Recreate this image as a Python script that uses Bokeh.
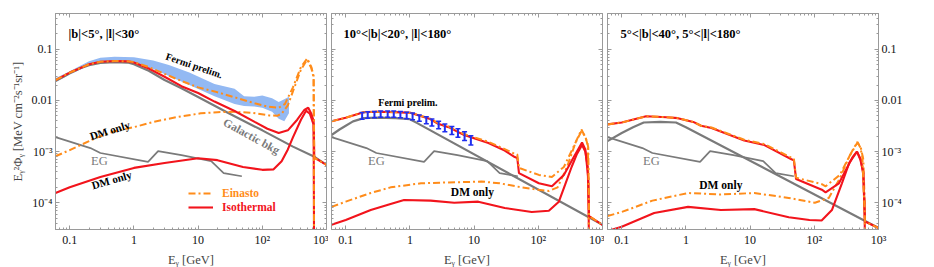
from bokeh.plotting import figure
from bokeh.layouts import row
from bokeh.models import (FixedTicker, LogAxis, Label, Legend, LegendItem, Range1d)
from bokeh.embed import file_html
from bokeh.resources import INLINE

# ---------------- axes / ticks ----------------
X_RANGE = (0.06, 1000)
Y_RANGE = (3e-5, 0.5)
X_TICKS = [0.1, 1, 10, 100, 1000]
X_TICK_LABELS = ["0.1", "1", "10", "10²", "10³"]
Y_TICKS = [1e-4, 1e-3, 1e-2, 1e-1]
Y_TICK_LABELS = ["10⁻⁴", "10⁻³", "0.01", "0.1"]
X_MINOR = [m * 10.0 ** k for k in range(-2, 3) for m in range(2, 10)]
Y_MINOR = [m * 10.0 ** k for k in range(-5, 0) for m in range(2, 10)]

# ---------------- shared extragalactic (EG) background ----------------
EG_E = [0.06, 0.21, 0.30, 1.66, 2.38, 5.5, 16, 25, 48]
EG_Y = [1.92e-3, 1.17e-3, 9.4e-4, 6.3e-4, 1.02e-3, 8.5e-4, 6.5e-4, 3.8e-4, 3.3e-4]

# ---------------- panel A: |b|<5, |l|<30 ----------------
A_GAL_E = [0.06, 0.08, 0.1, 0.15, 0.2, 0.3, 0.5, 0.8, 1.0, 1.3, 1.7, 3, 5.5, 10, 30, 100, 300, 660, 1000]
A_GAL_Y = [0.024, 0.029, 0.034, 0.043, 0.049, 0.054, 0.056, 0.055, 0.051, 0.044, 0.038, 0.025, 0.0173,
           0.0117, 0.0056, 0.0026, 0.00125, 0.00078, 0.00055]
A_ISO_E = [0.06, 0.1, 0.2, 0.3, 0.5, 0.8, 1, 1.7, 3, 5.5, 10, 18, 37, 76, 120, 180, 250, 350, 450, 520,
           580, 630, 645, 1000]
A_ISO_Y = [0.025, 0.035, 0.051, 0.057, 0.059, 0.058, 0.055, 0.042, 0.029, 0.019, 0.014, 0.0095, 0.0062,
           0.0038, 0.0028, 0.0023, 0.0026, 0.0042, 0.0065, 0.0072, 0.0055, 0.004, 0.00076, 0.00055]
A_EIN_E = [0.06, 0.1, 0.2, 0.3, 0.5, 0.8, 1, 1.7, 3, 5.5, 10, 18, 37, 76, 126, 180, 225, 300, 400, 500,
           580, 630, 645, 1000]
A_EIN_Y = [0.025, 0.035, 0.051, 0.057, 0.059, 0.058, 0.056, 0.045, 0.033, 0.024, 0.018, 0.015, 0.0115,
           0.0088, 0.0075, 0.0072, 0.0085, 0.018, 0.045, 0.066, 0.045, 0.03, 0.00076, 0.00055]
A_EIN_DM_E = [0.06, 0.1, 0.2, 0.3, 0.5, 1, 2, 5, 11, 20, 37, 70, 126, 170, 200, 250, 300, 400, 500, 580,
              630, 645]
A_EIN_DM_Y = [8.1e-4, 1.07e-3, 1.6e-3, 2.0e-3, 2.5e-3, 3.0e-3, 3.8e-3, 4.8e-3, 5.6e-3, 5.9e-3, 6.0e-3,
              5.7e-3, 5.1e-3, 5.0e-3, 5.5e-3, 8e-3, 0.015, 0.04, 0.063, 0.043, 0.028, 1e-6]
A_ISO_DM_E = [0.06, 0.1, 0.3, 1, 3, 10, 20, 50, 100, 150, 200, 250, 300, 400, 480, 550, 600, 630, 645]
A_ISO_DM_Y = [1.55e-4, 2.0e-4, 3.2e-4, 4.8e-4, 6.0e-4, 7.4e-4, 6.8e-4, 5.0e-4, 4.4e-4, 4.5e-4, 6.5e-4,
              1.1e-3, 1.9e-3, 4.2e-3, 6.3e-3, 5.5e-3, 4.0e-3, 3.4e-3, 1e-6]
A_FERMI_E = [0.06, 0.1, 0.2, 0.3, 0.5, 1, 2, 3.5, 7.3, 18, 37, 52, 75, 100, 142, 180, 220, 260]
A_FERMI_HI = [0.027, 0.037, 0.058, 0.068, 0.071, 0.07, 0.06, 0.049, 0.035, 0.021, 0.017, 0.012, 0.0118,
              0.0125, 0.011, 0.0093, 0.0105, 0.0118]
A_FERMI_LO = [0.023, 0.032, 0.048, 0.053, 0.055, 0.053, 0.041, 0.03, 0.02, 0.012, 0.0085, 0.0078, 0.0076,
              0.0072, 0.006, 0.0044, 0.0039, 0.0056]

# ---------------- panel B: 10<|b|<20, |l|<180 ----------------
B_GAL_E = [0.06, 0.08, 0.1, 0.13, 0.19, 0.3, 0.6, 1.0, 1.3, 1000]
B_GAL_Y = [2.1e-3, 2.7e-3, 3.2e-3, 3.9e-3, 4.5e-3, 4.6e-3, 4.5e-3, 4.3e-3, 3.6e-3, 3.7e-5]
B_ISO_E = [0.06, 0.1, 0.19, 0.3, 0.6, 1.04, 2, 2.75, 4, 7, 16.7, 30, 43, 47, 50, 102, 163, 250, 350, 480,
           540, 600, 617, 1000]
B_ISO_Y = [3.9e-3, 4.6e-3, 5.9e-3, 6.0e-3, 5.9e-3, 5.7e-3, 4.4e-3, 3.5e-3, 3.0e-3, 2.1e-3, 1.47e-3,
           1.05e-3, 7.8e-4, 7.5e-4, 3.8e-4, 2.4e-4, 2.1e-4, 3.5e-4, 7.5e-4, 1.5e-3, 1.1e-3, 3e-4, 5.5e-5, 3.7e-5]
B_EIN_E = [0.06, 0.1, 0.19, 0.3, 0.6, 1.04, 2, 2.75, 4, 7, 16.7, 30, 43, 47, 50, 102, 163, 250, 350, 470,
           530, 580, 600, 617, 1000]
B_EIN_Y = [3.9e-3, 4.6e-3, 5.9e-3, 6.0e-3, 5.9e-3, 5.7e-3, 4.5e-3, 3.6e-3, 3.1e-3, 2.2e-3, 1.55e-3,
           1.12e-3, 9e-4, 8.8e-4, 4.8e-4, 3.5e-4, 3.2e-4, 5e-4, 1.2e-3, 2.7e-3, 2.0e-3, 1.5e-3, 1.2e-3,
           5.5e-5, 3.7e-5]
B_EIN_DM_E = [0.06, 0.1, 0.245, 0.5, 1.49, 4, 9, 13, 25, 55, 100, 146, 200, 280, 380, 470, 540, 590, 610, 620]
B_EIN_DM_Y = [8.3e-5, 1.05e-4, 1.55e-4, 2.0e-4, 2.4e-4, 2.5e-4, 2.55e-4, 2.6e-4, 2.4e-4, 2.0e-4, 1.8e-4,
              1.7e-4, 2.0e-4, 5e-4, 1.5e-3, 2.5e-3, 2.0e-3, 1.3e-3, 1e-4, 1e-6]
B_ISO_DM_E = [0.06, 0.1, 0.245, 0.5, 0.81, 2.1, 4.9, 11.6, 30, 79, 146, 209, 260, 330, 400, 480, 540, 590,
              610, 620]
B_ISO_DM_Y = [3.7e-5, 4.6e-5, 7.2e-5, 9.5e-5, 1.13e-4, 1.1e-4, 1.0e-4, 1.05e-4, 7.9e-5, 6.6e-5, 7.0e-5,
              1.05e-4, 2.2e-4, 5e-4, 9e-4, 1.35e-3, 1.0e-3, 5e-4, 5e-5, 1e-6]
B_FERMI_E = [0.18, 0.22, 0.28, 0.35, 0.45, 0.56, 0.71, 0.89, 1.1, 1.4, 1.8, 2.2, 2.8, 3.5, 4.5, 5.6, 7.1, 8.9]
B_FERMI_LO = [4.3e-3, 4.5e-3, 4.6e-3, 4.7e-3, 4.7e-3, 4.7e-3, 4.6e-3, 4.4e-3, 4.2e-3, 3.9e-3, 3.5e-3,
              3.15e-3, 2.8e-3, 2.45e-3, 2.15e-3, 1.9e-3, 1.65e-3, 1.35e-3]
B_FERMI_HI = [5.8e-3, 6.0e-3, 6.1e-3, 6.2e-3, 6.2e-3, 6.2e-3, 6.1e-3, 5.9e-3, 5.7e-3, 5.2e-3, 4.8e-3,
              4.35e-3, 3.9e-3, 3.45e-3, 3.1e-3, 2.8e-3, 2.45e-3, 2.05e-3]

# ---------------- panel C: 5<|b|<40, 5<|l|<180 ----------------
C_GAL_E = [0.06, 0.1, 0.15, 0.22, 0.4, 0.7, 1.0, 1000]
C_GAL_Y = [1.6e-3, 2.3e-3, 3.0e-3, 3.7e-3, 3.8e-3, 3.7e-3, 3.0e-3, 3.2e-5]
C_ISO_E = [0.06, 0.1, 0.24, 0.5, 0.75, 1.3, 1.72, 2.5, 8.1, 16.7, 44, 48, 52, 131, 150, 242, 400, 462, 520,
           580, 617, 1000]
C_ISO_Y = [3.4e-3, 3.7e-3, 4.9e-3, 4.7e-3, 4.5e-3, 3.8e-3, 3.2e-3, 2.9e-3, 1.65e-3, 1.34e-3, 7.1e-4,
           6.8e-4, 2.9e-4, 1.8e-4, 1.6e-4, 2.4e-4, 8e-4, 1.0e-3, 7e-4, 4e-4, 4.3e-5, 3.2e-5]
C_EIN_E = [0.06, 0.1, 0.24, 0.5, 0.75, 1.3, 1.72, 2.5, 8.1, 16.7, 44, 48, 52, 131, 150, 250, 400, 470, 520,
           560, 617, 1000]
C_EIN_Y = [3.4e-3, 3.7e-3, 4.9e-3, 4.7e-3, 4.5e-3, 3.8e-3, 3.2e-3, 2.95e-3, 1.7e-3, 1.4e-3, 7.6e-4,
           7.3e-4, 3.1e-4, 2.3e-4, 2.1e-4, 3.5e-4, 1.1e-3, 1.55e-3, 1.2e-3, 8e-4, 4.3e-5, 3.2e-5]
C_EIN_DM_E = [0.06, 0.1, 0.3, 1.08, 3.5, 11.6, 40, 102, 168, 250, 350, 470, 530, 580, 610, 620]
C_EIN_DM_Y = [5.5e-5, 6.6e-5, 1.1e-4, 1.55e-4, 1.45e-4, 1.55e-4, 1.24e-4, 1.0e-4, 1.24e-4, 3e-4, 8e-4,
              1.5e-3, 1.2e-3, 7e-4, 1e-4, 1e-6]
C_ISO_DM_E = [0.06, 0.1, 0.32, 1.08, 3.5, 11.6, 40, 84, 130, 188, 269, 350, 462, 530, 580, 610, 620]
C_ISO_DM_Y = [2.8e-5, 3.4e-5, 6.3e-5, 8.3e-5, 7.2e-5, 7.5e-5, 5.2e-5, 4.6e-5, 4.5e-5, 7.2e-5, 2.4e-4,
              6e-4, 1.0e-3, 7e-4, 3.5e-4, 5e-5, 1e-6]

# ---------------- styles ----------------
RED = "#f2141c"
ORANGE = "#ff8c1a"
GRAY = "#7a7a7a"
BAND = "#93b9f3"
BLUE = "#1f2ef0"
FRAME = "#9a9a9a"
FONT = "Liberation Serif"
DASHDOT = "7 3 2 3"

FRAME_W = 271
FRAME_H = 216


def style_axis(ax, ticks, minor, labels, show):
    ax.ticker = FixedTicker(ticks=ticks, minor_ticks=minor)
    ax.major_tick_in = 4
    ax.major_tick_out = 0
    ax.minor_tick_in = 2
    ax.minor_tick_out = 0
    ax.axis_line_color = FRAME
    ax.major_tick_line_color = FRAME
    ax.minor_tick_line_color = FRAME
    if show:
        ax.major_label_overrides = dict(zip(ticks, labels))
        ax.major_label_text_font = FONT
        ax.major_label_text_font_size = "12px"
        ax.major_label_text_color = "#111111"
        ax.major_label_standoff = 3
    else:
        ax.major_label_overrides = {t: "" for t in ticks}
        ax.major_label_text_font_size = "0px"
        ax.major_label_standoff = 0
        ax.axis_label = None


def make_panel(left_border, right_border, y_labels_side):
    p = figure(frame_width=FRAME_W, frame_height=FRAME_H, x_axis_type="log", y_axis_type="log",
               x_range=Range1d(*X_RANGE), y_range=Range1d(*Y_RANGE), output_backend="svg",
               toolbar_location=None, min_border_left=left_border, min_border_right=right_border,
               min_border_top=13, min_border_bottom=38)
    p.xgrid.visible = False
    p.ygrid.visible = False
    p.outline_line_color = FRAME
    p.background_fill_color = "white"
    top = LogAxis()
    right = LogAxis()
    p.add_layout(top, "above")
    p.add_layout(right, "right")
    style_axis(p.below[0], X_TICKS, X_MINOR, X_TICK_LABELS, True)
    style_axis(top, X_TICKS, X_MINOR, X_TICK_LABELS, False)
    style_axis(p.left[0], Y_TICKS, Y_MINOR, Y_TICK_LABELS, y_labels_side == "left")
    style_axis(right, Y_TICKS, Y_MINOR, Y_TICK_LABELS, y_labels_side == "right")
    xa = p.below[0]
    xa.axis_label = "Eᵧ [GeV]"
    xa.axis_label_text_font = FONT
    xa.axis_label_text_font_style = "normal"
    xa.axis_label_text_font_size = "12.5px"
    xa.axis_label_standoff = 3
    if y_labels_side == "left":
        ya = p.left[0]
        ya.axis_label = "Eᵧ²Φᵧ [MeV cm⁻²s⁻¹sr⁻¹]"
        ya.axis_label_text_font = FONT
        ya.axis_label_text_font_style = "normal"
        ya.axis_label_text_font_size = "12.5px"
        ya.axis_label_standoff = 4
    return p


def add_curves(p, gal_e, gal_y, iso_e, iso_y, ein_e, ein_y, iso_dm_e, iso_dm_y, ein_dm_e, ein_dm_y):
    p.line(EG_E, EG_Y, line_color=GRAY, line_width=1.7)
    p.line(gal_e, gal_y, line_color=GRAY, line_width=2.2)
    p.line(iso_dm_e, iso_dm_y, line_color=RED, line_width=2.1)
    p.line(ein_dm_e, ein_dm_y, line_color=ORANGE, line_width=2, line_dash=DASHDOT)
    r_iso = p.line(iso_e, iso_y, line_color=RED, line_width=2.1)
    r_ein = p.line(ein_e, ein_y, line_color=ORANGE, line_width=2, line_dash=DASHDOT)
    return r_iso, r_ein


def add_label(p, x, y, text, size="10px", color="black", bold=True, angle=0.0, align="center"):
    p.add_layout(Label(x=x, y=y, text=text, text_font=FONT, text_font_size=size, text_color=color,
                       text_font_style="bold" if bold else "normal", angle=angle,
                       text_align=align, text_baseline="middle"))


# ---------- panel A ----------
pa = make_panel(55, 2, "left")
pa.varea(x=A_FERMI_E, y1=A_FERMI_LO, y2=A_FERMI_HI, fill_color=BAND, fill_alpha=1.0)
r_iso, r_ein = add_curves(pa, A_GAL_E, A_GAL_Y, A_ISO_E, A_ISO_Y, A_EIN_E, A_EIN_Y,
                          A_ISO_DM_E, A_ISO_DM_Y, A_EIN_DM_E, A_EIN_DM_Y)
add_label(pa, 0.096, 0.2, "|b|<5°, |l|<30°", size="12.5px", align="left")
add_label(pa, 8.7, 0.048, "Fermi prelim.", size="10px", angle=-0.33)
add_label(pa, 0.42, 2.6e-3, "DM only", size="11px", angle=0.3)
add_label(pa, 68, 2.0e-3, "Galactic bkg", size="11.5px", color=GRAY, angle=-0.5)
add_label(pa, 0.29, 6.5e-4, "EG", size="12.5px", color=GRAY, bold=False)
add_label(pa, 0.45, 2.8e-4, "DM only", size="11px", angle=0.28)
for rend, lab, col, yloc in [(r_ein, "Einasto", ORANGE, 29), (r_iso, "Isothermal", RED, 15)]:
    lg = Legend(items=[LegendItem(label=lab, renderers=[rend])], location=(133, yloc),
                padding=0, margin=0, spacing=0, glyph_width=25, glyph_height=14, label_height=14,
                label_standoff=9, label_text_font=FONT, label_text_font_size="11.5px",
                label_text_font_style="bold", label_text_color=col,
                border_line_color=None, background_fill_alpha=0)
    pa.add_layout(lg)

# ---------- panel B ----------
pb = make_panel(3, 2, "none")
add_curves(pb, B_GAL_E, B_GAL_Y, B_ISO_E, B_ISO_Y, B_EIN_E, B_EIN_Y,
           B_ISO_DM_E, B_ISO_DM_Y, B_EIN_DM_E, B_EIN_DM_Y)
pb.segment(x0=B_FERMI_E, y0=B_FERMI_LO, x1=B_FERMI_E, y1=B_FERMI_HI, line_color=BLUE, line_width=2)
pb.dash(x=B_FERMI_E, y=B_FERMI_LO, size=5, line_color=BLUE, line_width=1.5)
pb.dash(x=B_FERMI_E, y=B_FERMI_HI, size=5, line_color=BLUE, line_width=1.5)
add_label(pb, 0.092, 0.2, "10°<|b|<20°, |l|<180°", size="12.5px", align="left")
add_label(pb, 0.93, 9.2e-3, "Fermi prelim.", size="10px")
add_label(pb, 0.30, 6.5e-4, "EG", size="12.5px", color=GRAY, bold=False)
add_label(pb, 9.4, 1.6e-4, "DM only", size="11.5px")

# ---------- panel C ----------
pc = make_panel(3, 40, "right")
add_curves(pc, C_GAL_E, C_GAL_Y, C_ISO_E, C_ISO_Y, C_EIN_E, C_EIN_Y,
           C_ISO_DM_E, C_ISO_DM_Y, C_EIN_DM_E, C_EIN_DM_Y)
add_label(pc, 0.096, 0.2, "5°<|b|<40°, 5°<|l|<180°", size="12.5px", align="left")
add_label(pc, 0.29, 6.5e-4, "EG", size="12.5px", color=GRAY, bold=False)
add_label(pc, 3.5, 2.2e-4, "DM only", size="11.5px")

layout = row(pa, pb, pc)
open("out.html", "w").write(file_html(layout, INLINE))
